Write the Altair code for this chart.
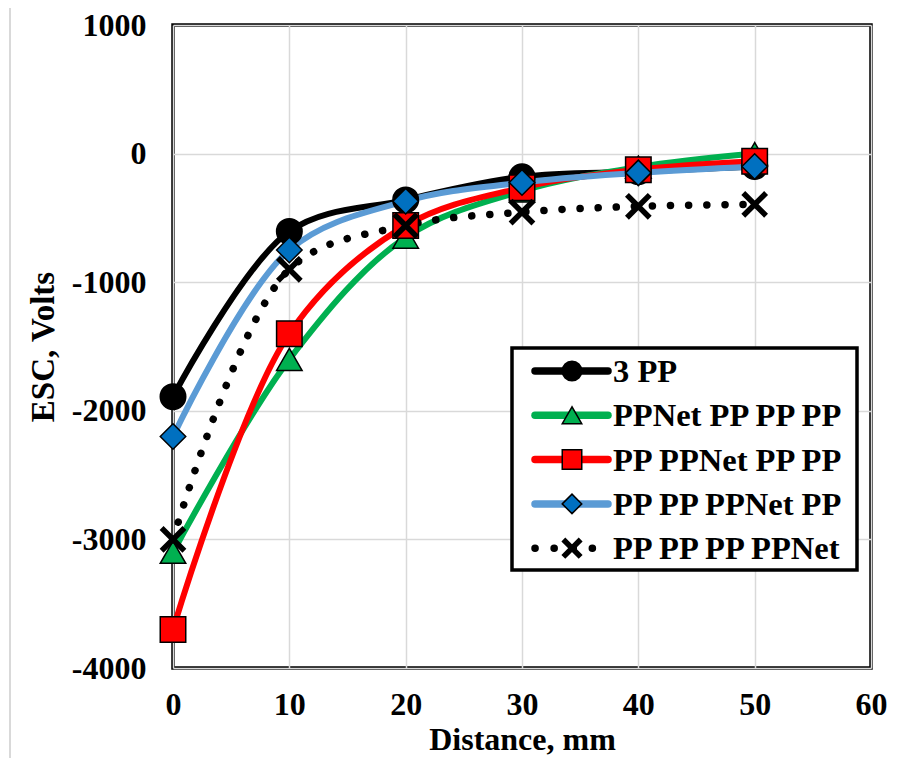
import altair as alt
import pandas as pd

# ---- data ----
distance = [0, 10, 20, 30, 40, 50]
series_names = ["3 PP", "PPNet PP PP PP", "PP PPNet PP PP", "PP PP PPNet PP", "PP PP PP PPNet"]
esc_3pp = [-1890, -605, -360, -180, -140, -100]
esc_ppnet_1 = [-3100, -1600, -650, -290, -105, 0]
esc_ppnet_2 = [-3700, -1400, -560, -265, -125, -60]
esc_ppnet_3 = [-2200, -750, -370, -225, -150, -100]
esc_ppnet_4 = [-3000, -900, -560, -455, -410, -395]
all_values = [esc_3pp, esc_ppnet_1, esc_ppnet_2, esc_ppnet_3, esc_ppnet_4]

x_ticks = [0, 10, 20, 30, 40, 50, 60]
y_ticks = [-4000, -3000, -2000, -1000, 0, 1000]

# ---- styles ----
line_colors = ["#000000", "#00B050", "#FF0000", "#5B9BD5", "#000000"]
marker_fill = ["#000000", "#00B050", "#FF0000", "#0070C0", "#000000"]
X_PATH = "M-1,-1L1,1M-1,1L1,-1"
shapes = ["circle", "triangle-up", "square", "diamond", X_PATH]
FONT = "Liberation Serif"

rows = []
for name, vals in zip(series_names, all_values):
    for d, v in zip(distance, vals):
        rows.append({"series": name, "x": d, "y": v})
df = pd.DataFrame(rows)

W, H = 698, 643
xs = alt.Scale(domain=[0, 60], nice=False)
ys = alt.Scale(domain=[-4000, 1000], nice=False)

x_enc = alt.X("x:Q", scale=xs, axis=alt.Axis(values=x_ticks, title="Distance, mm", grid=True,
                                              labelPadding=21, titlePadding=4, labelFlush=False,
                                              titleFontSize=32))
y_enc = alt.Y("y:Q", scale=ys, axis=alt.Axis(values=y_ticks, title="ESC, Volts", grid=True,
                                              labelPadding=27, titlePadding=11, labelFlush=False,
                                              labelExpr="datum.value < 0 ? '-' + abs(datum.value) : '' + datum.value"))

one = pd.DataFrame({"k": [0]})

layers = []
# outer chart-area border (Excel style)
layers.append(alt.Chart(one).mark_rect(fill=None, stroke="#d9d9d9", strokeWidth=2).encode(
    x=alt.value(-163), x2=alt.value(760), y=alt.value(-18), y2=alt.value(780)))

# lines
for i, name in enumerate(series_names):
    base = alt.Chart(df).transform_filter(alt.datum.series == name)
    if i == 4:
        m = base.mark_line(color=line_colors[i], strokeWidth=7.5, strokeDash=[0.1, 18],
                           strokeCap="round", interpolate="catmull-rom")
    else:
        m = base.mark_line(color=line_colors[i], strokeWidth=6, strokeCap="round",
                           interpolate="catmull-rom")
    layers.append(m.encode(x=x_enc, y=y_enc))

# markers
for i, name in enumerate(series_names):
    base = alt.Chart(df).transform_filter(alt.datum.series == name)
    if i == 4:
        m = base.mark_point(shape=shapes[i], filled=False, stroke="black", strokeWidth=5.5,
                            size=520, opacity=1)
    else:
        m = base.mark_point(shape=shapes[i], filled=True, fill=marker_fill[i], stroke="black",
                            strokeWidth=1.5, size=650, opacity=1)
    layers.append(m.encode(x=x_enc, y=y_enc))

# legend box
LX0, LX1, LY0, LY1 = 339, 684, 323, 545
layers.append(alt.Chart(one).mark_rect(fill="white", stroke="black", strokeWidth=3.5).encode(
    x=alt.value(LX0), x2=alt.value(LX1), y=alt.value(LY0), y2=alt.value(LY1)))

row_top, row_gap = 346, 44.3
for i, name in enumerate(series_names):
    ry = row_top + i * row_gap
    if i == 4:
        r = alt.Chart(one).mark_rule(color="black", strokeWidth=7.5, strokeDash=[0.1, 19],
                                     strokeCap="round")
    else:
        r = alt.Chart(one).mark_rule(color=line_colors[i], strokeWidth=7.5, strokeCap="round")
    layers.append(r.encode(x=alt.value(362), x2=alt.value(435), y=alt.value(ry)))
    if i == 4:
        p = alt.Chart(one).mark_point(shape=shapes[i], filled=False, stroke="black",
                                      strokeWidth=5.5, size=300, opacity=1)
    else:
        p = alt.Chart(one).mark_point(shape=shapes[i], filled=True, fill=marker_fill[i],
                                      stroke="black", strokeWidth=1.5, size=380, opacity=1)
    layers.append(p.encode(x=alt.value(399), y=alt.value(ry)))
    t = alt.Chart(one).mark_text(text=name, align="left", baseline="middle", font=FONT,
                                 fontSize=32.5, fontWeight="bold", color="black")
    layers.append(t.encode(x=alt.value(440), y=alt.value(ry + 1)))

chart = alt.layer(*layers).properties(
    width=W, height=H,
    autosize=alt.AutoSizeParams(type="none"),
    padding={"left": 165, "top": 17, "right": 17, "bottom": 90},
    background="white",
).configure_view(
    stroke="black", strokeWidth=3.5
).configure_axis(
    labelFont=FONT, labelFontSize=32, labelFontWeight="bold", labelColor="black",
    titleFont=FONT, titleFontSize=33, titleFontWeight="bold", titleColor="black",
    gridColor="#d9d9d9", gridWidth=1.5, domain=False, ticks=False,
)

chart.save("out.html", embed_options={"renderer": "svg", "actions": False})
